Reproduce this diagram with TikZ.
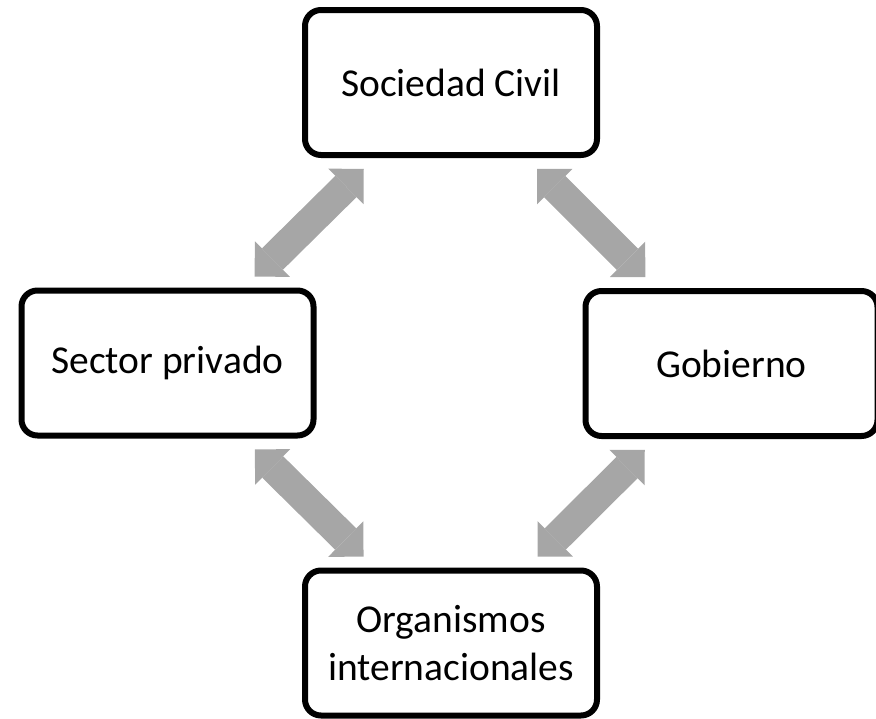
\documentclass[tikz,border=0pt]{standalone}
\usepackage{fontspec}
\setmainfont{Carlito}
\usetikzlibrary{arrows.meta}

\definecolor{arrowgray}{RGB}{166,166,166}

\begin{document}
\begin{tikzpicture}[x=1pt, y=-1pt]

\def\gap{15.5pt} % space left between a box and an arrow tip

\tikzset{actor/.style = {draw, line width=6pt, rounded corners=16pt,
                         minimum width=292pt, minimum height=145pt,
                         inner sep=0pt, align=center,
                         font=\fontsize{39.5}{48}\selectfont}
        }

\tikzset{link/.style = {arrowgray, line width=30pt,
                        >={Triangle[width=50pt, length=25pt, line width=0pt]}, <->,
                        shorten <=\gap, shorten >=\gap}
        }

\useasboundingbox (0,0) rectangle (876,718);

% the four actors
\node[actor] (soc) at (451,82.5)  {Sociedad Civil};
\node[actor] (pri) at (167.5,363) {Sector privado};
\node[actor] (gob) at (731.5,363.5) {Gobierno};
\node[actor] (org) at (451,643)   {Organismos\\internacionales};

% relations
\draw[link] (soc) -- (pri);
\draw[link] (soc) -- (gob);
\draw[link] (pri) -- (org);
\draw[link] (gob) -- (org);

\end{tikzpicture}
\end{document}
